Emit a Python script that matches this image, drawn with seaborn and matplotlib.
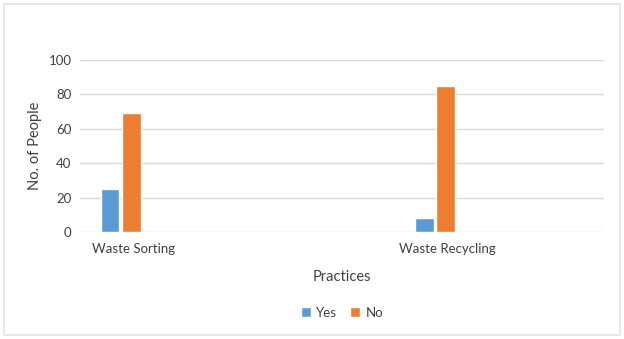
import numpy as np
import pandas as pd
import matplotlib
matplotlib.use('Agg')
import matplotlib.pyplot as plt
import seaborn as sns
from matplotlib.patches import Rectangle

# data
practices = ['Waste Sorting', 'Waste Recycling']
yes_counts = [25, 8]
no_counts = [69, 85]

df = pd.DataFrame({
    'Practice': practices * 2,
    'Answer': ['Yes'] * 2 + ['No'] * 2,
    'People': yes_counts + no_counts,
})

sns.set_style('white')
plt.rcParams['font.family'] = ['Lato', 'DejaVu Sans']

fig = plt.figure(figsize=(6.24, 3.39), dpi=100)
W, H = 624, 339
ax = fig.add_axes([80 / W, 1 - 232 / H, 524 / W, 172 / H])

sns.barplot(data=df, x='Practice', y='People', hue='Answer',
            palette={'Yes': '#5B9BD5', 'No': '#ED7D31'}, saturation=1,
            width=0.135, gap=0.14, ax=ax, legend=True)

ax.set_ylim(0, 100)
ax.set_yticks(range(0, 101, 20))
ax.set_xlim(-0.13, 1.538)
ax.yaxis.grid(True, color='#d9d9d9', linewidth=1)
ax.set_axisbelow(True)
for s in ax.spines.values():
    s.set_visible(False)
ax.tick_params(axis='both', length=0, labelsize=9.5, colors='#404040', pad=6)
ax.tick_params(axis='x', pad=8)
ax.set_xticks([0.04, 1.04], practices)

ax.set_xlabel('Practices', fontsize=10.5, color='#404040', labelpad=11)
ax.set_ylabel('No. of People', fontsize=10.5, color='#404040', labelpad=5)

ax.legend(loc='center', bbox_to_anchor=(0.5, -0.47), ncol=2, frameon=False,
          fontsize=9.5, handlelength=0.75, handleheight=0.75, handletextpad=0.4,
          columnspacing=1.0, labelcolor='#404040')

fig.patches.append(Rectangle((4 / W, 1 - 335 / H), 616 / W, 331 / H,
                             transform=fig.transFigure, fill=False,
                             edgecolor='#e3e3e3', linewidth=1.2))

fig.savefig('out.png', dpi=100, facecolor='white')
